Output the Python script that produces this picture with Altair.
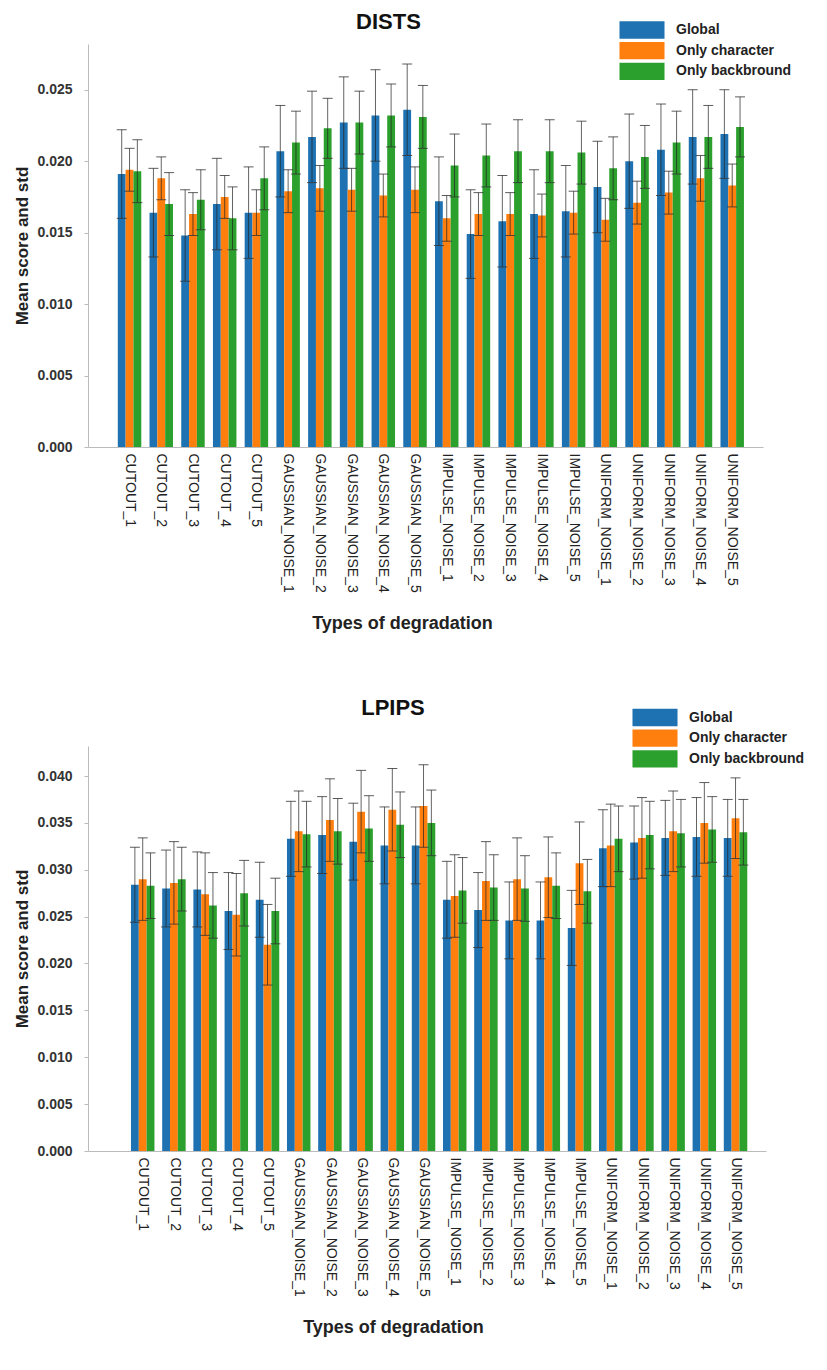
import altair as alt
import pandas as pd

FONT = "Liberation Sans"

categories = [
    "CUTOUT_1", "CUTOUT_2", "CUTOUT_3", "CUTOUT_4", "CUTOUT_5",
    "GAUSSIAN_NOISE_1", "GAUSSIAN_NOISE_2", "GAUSSIAN_NOISE_3", "GAUSSIAN_NOISE_4", "GAUSSIAN_NOISE_5",
    "IMPULSE_NOISE_1", "IMPULSE_NOISE_2", "IMPULSE_NOISE_3", "IMPULSE_NOISE_4", "IMPULSE_NOISE_5",
    "UNIFORM_NOISE_1", "UNIFORM_NOISE_2", "UNIFORM_NOISE_3", "UNIFORM_NOISE_4", "UNIFORM_NOISE_5",
]
series_names = ["Global", "Only character", "Only backbround"]
colors = ["#1f72b2", "#ff7f0e", "#2ca02c"]

# DISTS
dists_global = [0.0191, 0.0164, 0.0148, 0.0170, 0.0164, 0.0207, 0.0217, 0.0227, 0.0232, 0.0236,
                0.0172, 0.0149, 0.0158, 0.0163, 0.0165, 0.0182, 0.0200, 0.0208, 0.0217, 0.0219]
dists_global_std = [0.0031, 0.0031, 0.0032, 0.0032, 0.0032, 0.0032, 0.0032, 0.0032, 0.0032, 0.0032,
                    0.0031, 0.0031, 0.0032, 0.0031, 0.0032, 0.0032, 0.0033, 0.0032, 0.0033, 0.0031]
dists_char = [0.0194, 0.0188, 0.0163, 0.0175, 0.0164, 0.0179, 0.0181, 0.0180, 0.0176, 0.0180,
              0.0160, 0.0163, 0.0163, 0.0162, 0.0164, 0.0159, 0.0171, 0.0178, 0.0188, 0.0183]
dists_char_std = [0.0015, 0.0015, 0.0015, 0.0015, 0.0016, 0.0015, 0.0016, 0.0015, 0.0015, 0.0016,
                  0.0016, 0.0015, 0.0015, 0.0015, 0.0015, 0.0015, 0.0015, 0.0015, 0.0016, 0.0015]
dists_back = [0.0193, 0.0170, 0.0173, 0.0160, 0.0188, 0.0213, 0.0223, 0.0227, 0.0232, 0.0231,
              0.0197, 0.0204, 0.0207, 0.0207, 0.0206, 0.0195, 0.0203, 0.0213, 0.0217, 0.0224]
dists_back_std = [0.0022, 0.0022, 0.0021, 0.0022, 0.0022, 0.0022, 0.0021, 0.0022, 0.0022, 0.0022,
                  0.0022, 0.0022, 0.0022, 0.0022, 0.0022, 0.0022, 0.0022, 0.0022, 0.0022, 0.0021]

# LPIPS
lpips_global = [0.0284, 0.0280, 0.0279, 0.0256, 0.0268, 0.0333, 0.0337, 0.0330, 0.0326, 0.0326,
                0.0268, 0.0257, 0.0246, 0.0246, 0.0238, 0.0323, 0.0329, 0.0334, 0.0335, 0.0334]
lpips_global_std = [0.0040, 0.0041, 0.0040, 0.0041, 0.0040, 0.0040, 0.0041, 0.0041, 0.0041, 0.0041,
                    0.0041, 0.0040, 0.0041, 0.0041, 0.0040, 0.0041, 0.0039, 0.0040, 0.0042, 0.0041]
lpips_char = [0.0290, 0.0286, 0.0274, 0.0252, 0.0220, 0.0341, 0.0353, 0.0362, 0.0364, 0.0368,
              0.0272, 0.0288, 0.0290, 0.0292, 0.0307, 0.0326, 0.0334, 0.0341, 0.0350, 0.0355]
lpips_char_std = [0.0044, 0.0044, 0.0044, 0.0044, 0.0043, 0.0043, 0.0044, 0.0044, 0.0044, 0.0044,
                  0.0044, 0.0042, 0.0044, 0.0043, 0.0044, 0.0044, 0.0043, 0.0043, 0.0043, 0.0043]
lpips_back = [0.0283, 0.0290, 0.0262, 0.0275, 0.0256, 0.0338, 0.0341, 0.0344, 0.0348, 0.0350,
              0.0278, 0.0281, 0.0280, 0.0283, 0.0277, 0.0333, 0.0337, 0.0339, 0.0343, 0.0340]
lpips_back_std = [0.0035, 0.0034, 0.0035, 0.0035, 0.0035, 0.0035, 0.0035, 0.0035, 0.0035, 0.0035,
                  0.0035, 0.0035, 0.0035, 0.0035, 0.0034, 0.0035, 0.0036, 0.0036, 0.0035, 0.0035]

dists_ticks = [0.0, 0.005, 0.010, 0.015, 0.020, 0.025]
lpips_ticks = [0.0, 0.005, 0.010, 0.015, 0.020, 0.025, 0.030, 0.035, 0.040]


def build_frame(means, stds):
    rows = []
    for s, m_list, sd_list in zip(series_names, means, stds):
        for c, m, sd in zip(categories, m_list, sd_list):
            rows.append({"category": c, "series": s, "mean": m, "low": m - sd, "high": m + sd})
    return pd.DataFrame(rows)


def panel(title, df, y_max, y_ticks, width, height, x_scale, title_offset, title_dx,
          legend_x, legend_y, x_title_x):
    x = alt.X(
        "category:N", sort=categories, scale=alt.Scale(**x_scale),
        axis=alt.Axis(
            title="Types of degradation", labelAngle=90, labelFont=FONT, labelFontSize=14,
            labelColor="#222", labelPadding=6, ticks=False, domainColor="#bbbbbb",
            titleFont=FONT, titleFontSize=18, titleFontWeight="bold", titleColor="#222",
            titlePadding=22, titleX=x_title_x,
        ),
    )
    xo = alt.XOffset("series:N", sort=series_names,
                     scale=alt.Scale(paddingInner=0, paddingOuter=0))
    y = alt.Y(
        "mean:Q", scale=alt.Scale(domain=[0, y_max], nice=False, zero=True),
        axis=alt.Axis(
            title="Mean score and std", values=y_ticks, format=".3f", grid=False,
            labelFont=FONT, labelFontSize=14, labelFontWeight="bold", labelColor="#333",
            labelPadding=12, tickSize=4, tickColor="#bbbbbb", domainColor="#bbbbbb",
            titleFont=FONT, titleFontSize=17, titleFontWeight="bold", titleColor="#222",
            titlePadding=5,
        ),
    )
    color = alt.Color(
        "series:N", sort=series_names,
        scale=alt.Scale(domain=series_names, range=colors),
        legend=alt.Legend(
            title=None, orient="none", legendX=legend_x, legendY=legend_y,
            symbolType="M-2.6,-1H2.6V1H-2.6Z", symbolSize=300, symbolStrokeWidth=0,
            symbolOpacity=1, labelFont=FONT, labelFontSize=14, labelFontWeight="bold",
            labelColor="#222", labelOffset=25, rowPadding=2.7, padding=0,
        ),
    )
    base = alt.Chart(df)
    bars = base.mark_bar().encode(x=x, xOffset=xo, y=y, color=color)
    rules = base.mark_rule(color="#222", opacity=0.7, strokeWidth=1).encode(
        x=x, xOffset=xo, y="low:Q", y2="high:Q")
    cap_hi = base.mark_tick(color="#333", opacity=0.8, size=10, thickness=1).encode(
        x=x, xOffset=xo, y="high:Q")
    cap_lo = base.mark_tick(color="#333", opacity=0.8, size=10, thickness=1).encode(
        x=x, xOffset=xo, y="low:Q")
    return alt.layer(bars, rules, cap_hi, cap_lo).properties(
        width=width, height=height,
        title=alt.Title(text=title, font=FONT, fontSize=22, fontWeight="bold", color="#111",
                        anchor="middle", frame="group", offset=title_offset, dx=title_dx),
    )


dists_df = build_frame([dists_global, dists_char, dists_back],
                       [dists_global_std, dists_char_std, dists_back_std])
lpips_df = build_frame([lpips_global, lpips_char, lpips_back],
                       [lpips_global_std, lpips_char_std, lpips_back_std])

dists_chart = panel(
    "DISTS", dists_df, 0.0282, dists_ticks, 675, 403,
    dict(paddingInner=0.26, paddingOuter=0.77, align=0.61),
    title_offset=-13, title_dx=-37, legend_x=545, legend_y=-23, x_title_x=314,
)
lpips_chart = panel(
    "LPIPS", lpips_df, 0.0432, lpips_ticks, 678, 405,
    dict(paddingInner=0.21, paddingOuter=0.97, align=0.71),
    title_offset=-11.5, title_dx=-34, legend_x=558, legend_y=-37.5, x_title_x=305,
)

chart = alt.concat(dists_chart, lpips_chart, columns=1, spacing=64).resolve_scale(
    x="independent", y="independent", color="independent"
).configure_view(stroke=None).properties(
    padding={"left": 5, "top": 3, "right": 5, "bottom": 5}
)

chart.save("out.html", embed_options={"renderer": "svg", "actions": False})
